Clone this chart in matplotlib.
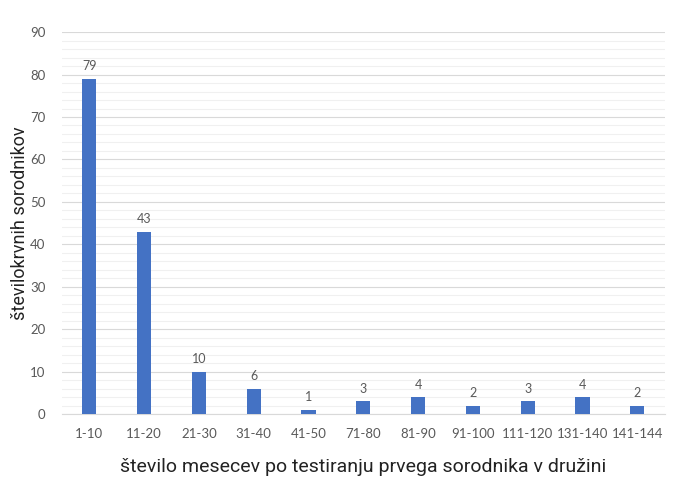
import numpy as np
import matplotlib.pyplot as plt
from matplotlib.ticker import MultipleLocator

# meseci po testiranju prvega sorodnika in število sorodnikov
CATEGORIES = ["1-10", "11-20", "21-30", "31-40", "41-50", "71-80",
              "81-90", "91-100", "111-120", "131-140", "141-144"]
COUNTS = [79, 43, 10, 6, 1, 3, 4, 2, 3, 4, 2]

BAR_COLOR = "#4472C4"
TICK_COLOR = "#595959"


def plot_counts(categories, counts):
    fig = plt.figure(figsize=(6.78, 4.8), dpi=100)
    ax = fig.add_axes([0.0914, 0.1375, 0.889, 0.7955])

    x = np.arange(len(categories))
    bars = ax.bar(x, counts, width=0.26, color=BAR_COLOR, zorder=3)

    # vrednosti nad stolpci
    for rect, val in zip(bars, counts):
        ax.text(rect.get_x() + rect.get_width() / 2, val + 1.5, str(val),
                ha="center", va="bottom", fontsize=9, color=TICK_COLOR,
                family="Lato")

    ax.set_xlim(-0.5, len(categories) - 0.5)
    ax.set_ylim(0, 90)
    ax.yaxis.set_major_locator(MultipleLocator(10))
    ax.yaxis.set_minor_locator(MultipleLocator(2))
    ax.grid(axis="y", which="major", color="#D9D9D9", linewidth=0.8, zorder=0)
    ax.grid(axis="y", which="minor", color="#F0F0F0", linewidth=0.8, zorder=0)

    ax.set_xticks(x)
    ax.set_xticklabels(categories)
    ax.tick_params(axis="both", which="both", length=0, colors=TICK_COLOR,
                   labelsize=9.5)
    ax.tick_params(axis="x", pad=10)
    ax.tick_params(axis="y", pad=12)
    for lab in ax.get_xticklabels() + ax.get_yticklabels():
        lab.set_family("Lato")

    for side in ("top", "right", "left"):
        ax.spines[side].set_visible(False)
    ax.spines["bottom"].set_color("#D9D9D9")

    ax.set_xlabel("število mesecev po testiranju prvega sorodnika v družini",
                  fontsize=14, color="#222222", labelpad=13, family="Roboto")
    ax.set_ylabel("številokrvnih sorodnikov", fontsize=13, color="#222222",
                  labelpad=1, family="Roboto")

    fig.savefig("out.png", dpi=100)


if __name__ == "__main__":
    plot_counts(CATEGORIES, COUNTS)
